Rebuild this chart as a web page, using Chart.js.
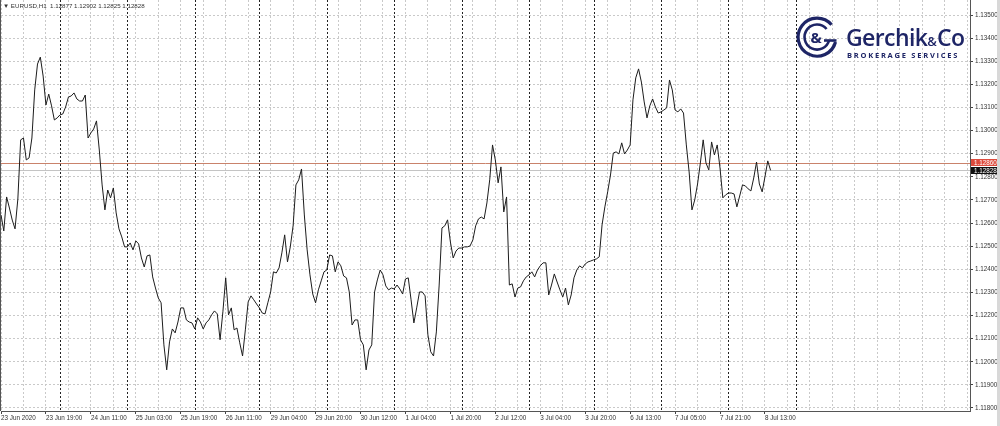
<!DOCTYPE html>
<html><head><meta charset="utf-8">
<script src="https://cdn.jsdelivr.net/npm/chart.js@4/dist/chart.umd.min.js"></script>
<style>
html,body{margin:0;padding:0;background:#fff;}
#wrap{position:relative;width:1000px;height:426px;overflow:hidden;background:#fff;}
#c{position:absolute;left:0;top:0;}
#hdr{position:absolute;left:3px;top:2px;font:6.2px "Liberation Sans",sans-serif;color:#333;white-space:pre;line-height:8px;}
#logo-icon{position:absolute;left:795px;top:15px;}
#logo-name{position:absolute;left:846px;top:25.5px;font:600 23px/23px "Open Sans",sans-serif;color:#1e2566;white-space:nowrap;letter-spacing:-0.6px;}
#logo-name .amp{font-size:13px;letter-spacing:0;}
#logo-sub{position:absolute;left:847px;top:51.5px;font:700 7.5px/7.5px "Open Sans",sans-serif;color:#1e2566;letter-spacing:1.75px;white-space:nowrap;}
#rstrip{position:absolute;left:997px;top:0;width:3px;height:426px;background:#d8d8d8;}
</style></head>
<body>
<div id="wrap">
<canvas id="c" width="1000" height="426"></canvas>
<div id="hdr"></div>
<svg id="logo-icon" width="44" height="44" viewBox="0 0 44 44">
  <path d="M36.55,9.78 A19,19 0 1 0 40.5,27" fill="none" stroke="#1e2566" stroke-width="3.2"/>
  <path d="M31.6,14 A12.5,12.5 0 1 0 34.2,25" fill="none" stroke="#1e2566" stroke-width="2.6"/>
  <line x1="29" y1="25.5" x2="41.5" y2="25.5" stroke="#1e2566" stroke-width="2.6"/>
  <text x="21" y="28" text-anchor="middle" font-family="Open Sans" font-weight="700" font-size="15" fill="#1e2566">&amp;</text>
</svg>
<div id="logo-name">Gerchik<span class="amp">&amp;</span>Co</div>
<div id="logo-sub">BROKERAGE SERVICES</div>
<div id="rstrip"></div>
</div>
<script>
// ---- data ----
const symbolHeader = "EURUSD,H1  1.12877 1.12902 1.12825 1.12828";
const closes = [
1.12635,1.12566,1.12713,1.12665,1.12613,1.12575,1.12704,1.12960,1.12968,1.12873,
1.12882,1.12968,1.13176,1.13288,1.13318,1.13236,1.13111,1.13158,1.13107,1.13046,
1.13055,1.13068,1.13072,1.13102,1.13145,1.13150,1.13163,1.13137,1.13128,1.13128,
1.13154,1.12968,1.12990,1.13007,1.13042,1.12916,1.12765,1.12657,1.12743,1.12709,
1.12752,1.12644,1.12575,1.12540,1.12497,1.12497,1.12514,1.12484,1.12523,1.12510,
1.12449,1.12410,1.12458,1.12462,1.12367,1.12319,1.12276,1.12255,1.12073,1.11965,
1.12086,1.12142,1.12125,1.12172,1.12233,1.12233,1.12181,1.12172,1.12168,1.12142,
1.12190,1.12172,1.12142,1.12168,1.12181,1.12203,1.12220,1.12207,1.12095,1.12216,
1.12363,1.12203,1.12233,1.12138,1.12146,1.12082,1.12025,1.12138,1.12259,1.12285,
1.12268,1.12250,1.12233,1.12211,1.12207,1.12255,1.12302,1.12389,1.12384,1.12406,
1.12471,1.12549,1.12432,1.12497,1.12588,1.12765,1.12787,1.12834,1.12635,1.12484,
1.12376,1.12293,1.12255,1.12311,1.12350,1.12389,1.12397,1.12462,1.12458,1.12389,
1.12432,1.12415,1.12371,1.12363,1.12302,1.12159,1.12181,1.12181,1.12095,1.12073,
1.11965,1.12051,1.12073,1.12302,1.12354,1.12397,1.12376,1.12328,1.12311,1.12319,
1.12315,1.12332,1.12315,1.12293,1.12358,1.12363,1.12268,1.12168,1.12233,1.12302,
1.12302,1.12285,1.12116,1.12043,1.12025,1.12129,1.12332,1.12579,1.12588,1.12614,
1.12518,1.12449,1.12479,1.12492,1.12492,1.12497,1.12497,1.12501,1.12527,1.12588,
1.12618,1.12626,1.12618,1.12687,1.12787,1.12938,1.12873,1.12774,1.12843,1.12648,
1.12713,1.12332,1.12337,1.12280,1.12319,1.12324,1.12350,1.12367,1.12376,1.12389,
1.12367,1.12397,1.12415,1.12428,1.12428,1.12289,1.12332,1.12380,1.12345,1.12311,
1.12280,1.12319,1.12246,1.12289,1.12363,1.12397,1.12415,1.12406,1.12423,1.12432,
1.12436,1.12441,1.12445,1.12454,1.12592,1.12670,1.12735,1.12808,1.12903,1.12908,
1.12899,1.12947,1.12899,1.12916,1.12938,1.13133,1.13228,1.13267,1.13210,1.13124,
1.13055,1.13107,1.13137,1.13102,1.13076,1.13081,1.13089,1.13098,1.13219,1.13176,
1.13089,1.13081,1.13094,1.13076,1.12938,1.12821,1.12657,1.12700,1.12769,1.12860,
1.12960,1.12860,1.12830,1.12951,1.12895,1.12938,1.12838,1.12709,1.12722,1.12730,
1.12730,1.12726,1.12670,1.12717,1.12765,1.12761,1.12748,1.12739,1.12795,1.12864,
1.12769,1.12735,1.12800,1.12869,1.12828
];
const xTickLabels = ["23 Jun 2020","23 Jun 19:00","24 Jun 11:00","25 Jun 03:00","25 Jun 19:00","26 Jun 11:00",
  "29 Jun 04:00","29 Jun 20:00","30 Jun 12:00","1 Jul 04:00","1 Jul 20:00","2 Jul 12:00",
  "3 Jul 04:00","3 Jul 20:00","6 Jul 13:00","7 Jul 05:00","7 Jul 21:00","8 Jul 13:00"];
const yTickValues = [1.118,1.119,1.120,1.121,1.122,1.123,1.124,1.125,1.126,1.127,1.128,1.129,1.130,1.131,1.132,1.133,1.134,1.135];
const daySeparatorBars = [21,45,69,92,116,140,164,188,211,235,259,283];
const askPrice = 1.12860;
const bidPrice = 1.12828;
const barSlots = 345;
const labelEvery = 16;
const gridEvery = 8;
const yMin = 1.11787, yMax = 1.13565;

document.getElementById('hdr').textContent = "\u25BC " + symbolHeader;

const FONT = {family: 'Liberation Sans', size: 6.3};

const overlay = {
  id: 'overlay',
  beforeDatasetsDraw(chart) {
    const {ctx, chartArea: a, scales: {x, y}} = chart;
    ctx.save();
    // day separators
    ctx.strokeStyle = '#222';
    ctx.lineWidth = 1;
    ctx.setLineDash([2, 2]);
    daySeparatorBars.forEach(b => {
      const px = Math.round(x.getPixelForValue(b)) + 0.5;
      ctx.beginPath(); ctx.moveTo(px, a.top); ctx.lineTo(px, a.bottom); ctx.stroke();
    });
    ctx.setLineDash([]);
    // bid / ask lines
    const ya = Math.round(y.getPixelForValue(askPrice)) + 0.5;
    const yb = Math.round(y.getPixelForValue(bidPrice)) + 0.5;
    ctx.strokeStyle = '#c9826b';
    ctx.beginPath(); ctx.moveTo(a.left, ya); ctx.lineTo(a.right, ya); ctx.stroke();
    ctx.strokeStyle = '#c4c4c4';
    ctx.beginPath(); ctx.moveTo(a.left, yb); ctx.lineTo(a.right, yb); ctx.stroke();
    // left frame line
    ctx.strokeStyle = '#555';
    ctx.beginPath(); ctx.moveTo(0.5, 0); ctx.lineTo(0.5, a.bottom); ctx.stroke();
    ctx.restore();
  },
  afterDraw(chart) {
    const {ctx, chartArea: a, scales: {y}} = chart;
    ctx.save();
    ctx.font = '6.3px "Liberation Sans"';
    ctx.textBaseline = 'middle';
    ctx.textAlign = 'left';
    const h = 7;
    const ya = y.getPixelForValue(askPrice);
    const yb = y.getPixelForValue(bidPrice);
    const topA = Math.round(ya - h / 2);
    let topB = Math.round(yb - h / 2);
    if (topB < topA + h) topB = topA + h;
    ctx.fillStyle = '#dc4a3c';
    ctx.fillRect(a.right + 1, topA, 26, h);
    ctx.fillStyle = '#fff';
    ctx.fillText(askPrice.toFixed(5), a.right + 4, topA + h / 2 + 0.5);
    ctx.fillStyle = '#111';
    ctx.fillRect(a.right + 1, topB, 26, h);
    ctx.fillStyle = '#fff';
    ctx.fillText(bidPrice.toFixed(5), a.right + 4, topB + h / 2 + 0.5);
    ctx.restore();
  }
};

new Chart(document.getElementById('c'), {
  type: 'line',
  data: {
    datasets: [{
      data: closes.map((c, i) => ({x: i, y: c})),
      borderColor: '#1c1c1c',
      borderWidth: 1,
      pointRadius: 0,
      tension: 0,
      fill: false
    }]
  },
  options: {
    responsive: false,
    animation: false,
    events: [],
    layout: {padding: {left: 1, top: 0, right: 0, bottom: 0}},
    plugins: {legend: {display: false}, tooltip: {enabled: false}},
    scales: {
      x: {
        type: 'linear',
        position: 'bottom',
        min: 0,
        max: barSlots,
        afterBuildTicks(s) {
          const t = [];
          for (let v = 0; v < barSlots; v += gridEvery) t.push({value: v});
          s.ticks = t;
        },
        afterFit(s) { s.height = 15; s.paddingLeft = 0; s.paddingRight = 0; },
        ticks: {
          autoSkip: false,
          maxRotation: 0,
          minRotation: 0,
          align: 'start',
          padding: 0,
          color: '#333',
          font: FONT,
          callback(v) { return v % labelEvery === 0 ? (xTickLabels[v / labelEvery] || '') : ''; }
        },
        grid: {
          color: '#c9c9c9',
          lineWidth: 1,
          tickLength: 3,
          tickBorderDash: [],
          tickColor: (ctx) => (ctx.tick && ctx.tick.value % labelEvery === 0 && ctx.tick.value / labelEvery < xTickLabels.length) ? '#444' : 'rgba(0,0,0,0)'
        },
        border: {display: true, color: '#555', width: 1, dash: [2, 2]}
      },
      y: {
        type: 'linear',
        position: 'right',
        min: yMin,
        max: yMax,
        afterBuildTicks(s) { s.ticks = yTickValues.map(v => ({value: v})); },
        afterFit(s) { s.width = 30; s.paddingTop = 0; s.paddingBottom = 0; },
        ticks: {
          padding: 2,
          color: '#333',
          font: FONT,
          callback(v) { return Number(v).toFixed(5); }
        },
        grid: {
          color: '#c9c9c9',
          lineWidth: 1,
          tickLength: 3,
          tickBorderDash: [],
          tickColor: '#444'
        },
        border: {display: true, color: '#555', width: 1, dash: [2, 2]}
      }
    }
  },
  plugins: [overlay]
});
</script>
</body></html>
